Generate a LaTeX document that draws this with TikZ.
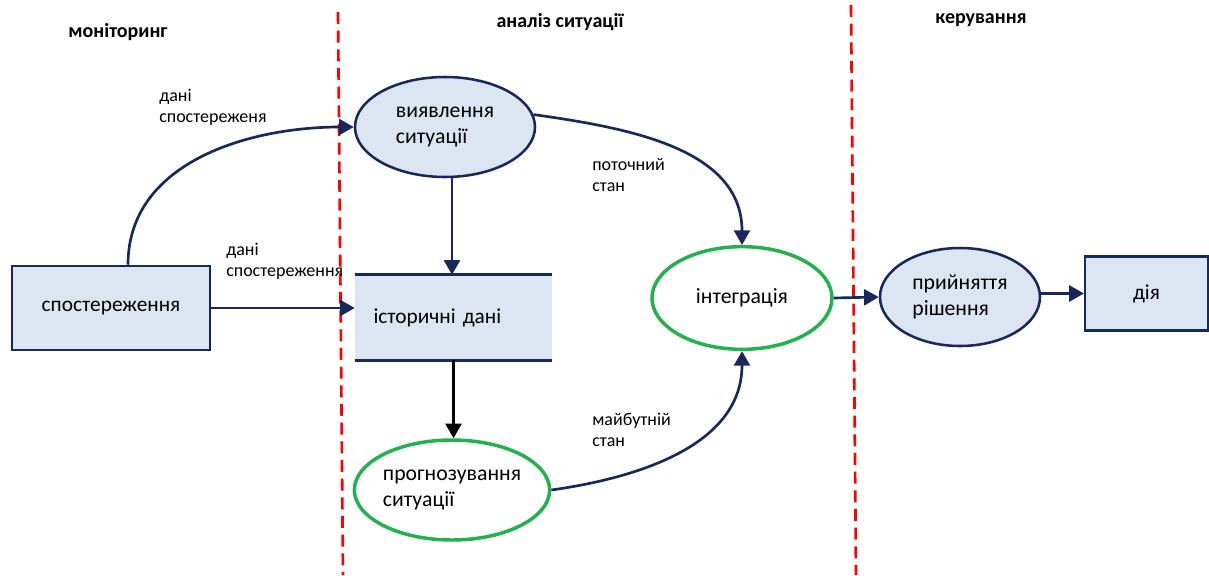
\documentclass[tikz,border=0pt]{standalone}
\usepackage{fontspec}
\setmainfont{Carlito}
\usetikzlibrary{shapes.geometric,arrows.meta,calc}
\definecolor{navy}{RGB}{24,40,92}
\definecolor{pale}{RGB}{220,230,242}
\definecolor{grn}{RGB}{34,178,76}
\begin{document}
\begin{tikzpicture}[x=0.75pt,y=-0.75pt,
	ell/.style={ellipse,draw=navy,line width=1.9pt,fill=pale,inner sep=0pt,align=left,font=\fontsize{16.3}{19.5}\selectfont},
	gell/.style={ellipse,draw=grn,line width=2.6pt,fill=white,inner sep=0pt,align=left,font=\fontsize{16.3}{19.5}\selectfont},
	box/.style={rectangle,draw=navy,line width=1.9pt,fill=pale,font=\fontsize{16}{19}\selectfont},
	lbl/.style={align=left,anchor=north west,inner sep=0pt,font=\fontsize{13.5}{16}\selectfont},
	ttl/.style={font=\fontsize{15}{18}\selectfont\bfseries},
	arr/.style={draw=navy,line width=2pt,-{Triangle[length=11pt,width=12pt]}},
	sep/.style={draw=red,line width=2pt,dash pattern=on 9pt off 5pt}]
	\useasboundingbox (0,0) rectangle (1209,575);
	\draw[sep] (338,12) -- (343,575);
	\draw[sep] (851,5) -- (856,575);
	\node[ttl] (t1) at (118,32) {моніторинг};
	\node[ttl] (t2) at (560,22) {аналіз ситуації};
	\node[ttl] (t3) at (981,20) {керування};
	\node[box,minimum width=148.5pt,minimum height=63pt] (sp) at (111,308) {спостереження};
	\node[ell,minimum width=135pt,minimum height=75pt] (vy) at (445,127) {виявлення\\ситуації};
	\node[rectangle,fill=pale,minimum width=147.75pt,minimum height=63.75pt,text width=120pt,align=left,inner sep=0pt,font=\fontsize{16}{19}\selectfont] (hd) at (453.5,317.5) {історичні дані\\[16pt]};
	\draw[navy,line width=2.4pt] (hd.north west) -- (hd.north east) (hd.south west) -- (hd.south east);
	\node[gell,minimum width=135pt,minimum height=75pt] (pg) at (452,490) {прогнозування\\ситуації};
	\node[gell,minimum width=135pt,minimum height=77pt,align=center] (in) at (742,298) {інтеграція};
	\node[ell,minimum width=120pt,minimum height=73.5pt] (pr) at (960,297) {прийняття\\рішення};
	\node[box,minimum width=92pt,minimum height=55.5pt] (dia) at (1146.5,293.5) {дія};
	\draw[arr] ($(sp.north)+(17,0)$) to[out=90,in=180] (vy.west);
	\node[lbl] (l1) at (159,89) {дані\\спостереженя};
	\draw[arr] (sp.east) -- (sp.east -| hd.west);
	\node[lbl] (l2) at (226,243) {дані\\спостереження};
	\draw[arr] ($(vy.south)+(7,0)$) -- ($(vy.south |- hd.north)+(7,0)$);
	\draw[black,line width=2pt,-{Triangle[length=11pt,width=12pt]}] (hd.south) -- (hd.south |- pg.north);
	\draw[arr] (vy.8) to[out=-8,in=90] (in.north);
	\node[lbl] (l3) at (592,158) {поточний\\стан};
	\draw[arr] (pg.east) to[out=8,in=-90] (in.south);
	\node[lbl] (l4) at (592,413) {майбутній\\ стан};
	\draw[arr] (in.east) -- (pr.west);
	\draw[arr] (pr.east |- dia.west) -- (dia.west);
\end{tikzpicture}
\end{document}
